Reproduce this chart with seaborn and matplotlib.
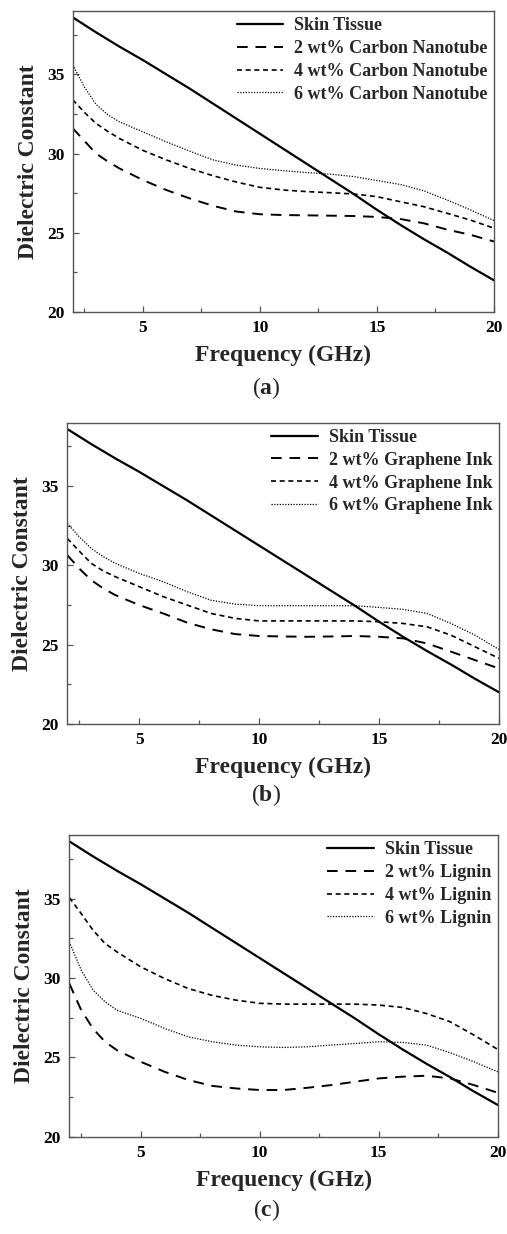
import numpy as np
import pandas as pd
import matplotlib
matplotlib.use("Agg")
import matplotlib.pyplot as plt
import seaborn as sns

# ---------------- data ----------------
freq_skin = [2, 3, 4, 5, 6, 7, 8, 9, 10, 11, 12, 13, 14, 15, 16, 17, 18, 19, 20]
skin = [38.6, 37.65, 36.75, 35.9, 35.0, 34.1, 33.15, 32.2, 31.25, 30.3, 29.35, 28.4,
        27.45, 26.45, 25.5, 24.6, 23.75, 22.85, 22.0]

freq = [2, 2.5, 3, 3.5, 4, 5, 6, 7, 8, 9, 10, 11, 12, 13, 14, 15, 16, 17, 18, 19, 20]

cnt2 = [31.6, 30.8, 30.0, 29.5, 29.06, 28.33, 27.7, 27.17, 26.7, 26.34, 26.17, 26.12,
        26.1, 26.08, 26.06, 26.0, 25.87, 25.6, 25.2, 24.87, 24.45]
cnt4 = [33.4, 32.6, 31.9, 31.4, 30.95, 30.2, 29.6, 29.06, 28.6, 28.2, 27.87, 27.7,
        27.6, 27.53, 27.45, 27.28, 26.96, 26.65, 26.23, 25.8, 25.29]
cnt6 = [35.6, 34.2, 33.1, 32.45, 32.0, 31.37, 30.74, 30.15, 29.6, 29.27, 29.06, 28.92,
        28.8, 28.7, 28.55, 28.3, 28.05, 27.65, 27.07, 26.44, 25.77]

gi2 = [30.65, 29.8, 29.07, 28.55, 28.13, 27.5, 26.97, 26.39, 25.97, 25.67, 25.55, 25.52,
       25.5, 25.52, 25.55, 25.5, 25.4, 25.08, 24.56, 24.03, 23.5]
gi4 = [31.7, 30.9, 30.13, 29.65, 29.29, 28.66, 28.03, 27.5, 26.97, 26.66, 26.5, 26.5,
       26.5, 26.5, 26.5, 26.45, 26.34, 26.13, 25.6, 24.87, 24.14]
gi6 = [32.65, 31.8, 31.07, 30.55, 30.13, 29.5, 28.97, 28.34, 27.8, 27.56, 27.46, 27.46,
       27.46, 27.46, 27.46, 27.35, 27.23, 26.97, 26.34, 25.6, 24.7]

lig2 = [29.65, 27.97, 26.8, 25.98, 25.45, 24.72, 24.09, 23.57, 23.2, 23.04, 22.94, 22.94,
        23.08, 23.25, 23.46, 23.67, 23.78, 23.84, 23.67, 23.25, 22.77]
lig4 = [35.06, 34.05, 33.0, 32.17, 31.64, 30.7, 29.96, 29.33, 28.9, 28.6, 28.4, 28.35,
        28.35, 28.35, 28.35, 28.29, 28.14, 27.76, 27.24, 26.4, 25.5]
lig6 = [32.27, 30.49, 29.23, 28.5, 27.97, 27.45, 26.82, 26.29, 25.98, 25.77, 25.66, 25.62,
        25.66, 25.77, 25.87, 25.98, 25.94, 25.77, 25.29, 24.72, 24.09]

panels = [
    ("a", "Carbon Nanotube", [cnt2, cnt4, cnt6]),
    ("b", "Graphene Ink", [gi2, gi4, gi6]),
    ("c", "Lignin", [lig2, lig4, lig6]),
]
percents = ["2", "4", "6"]

x_ticks = [5, 10, 15, 20]
y_ticks = [20, 25, 30, 35]

# ---------------- style ----------------
sns.set_theme(style="ticks")
plt.rcParams["font.family"] = ["Liberation Serif", "DejaVu Serif"]
plt.rcParams["mathtext.fontset"] = "custom"
plt.rcParams["mathtext.rm"] = "Liberation Serif"
plt.rcParams["mathtext.bf"] = "Liberation Serif:bold"

W, H = 507, 1234
fig = plt.figure(figsize=(W / 100, H / 100), dpi=100)

# axes boxes in pixels: left, top, right, bottom
boxes = [(72.7, 11, 494, 312), (67.3, 422.7, 499, 724), (69.3, 835, 497.7, 1136.7)]
captions_y = [388, 795, 1210]

styles = [
    dict(ls="-", lw=1.6),
    dict(ls=(0, (5.5, 4)), lw=1.4),
    dict(ls=(0, (3, 2.2)), lw=1.2),
    dict(ls=(0, (1, 1.2)), lw=0.9),
]
spine_col = "#555555"

for (letter, material, series), box, cy in zip(panels, boxes, captions_y):
    l, t, r, b = box
    ax = fig.add_axes([l / W, 1 - b / H, (r - l) / W, (b - t) / H])

    df_skin = pd.DataFrame({"f": freq_skin, "v": skin})
    sns.lineplot(data=df_skin, x="f", y="v", ax=ax, color="black",
                 label="Skin Tissue", **styles[0])
    for p, vals, st in zip(percents, series, styles[1:]):
        df = pd.DataFrame({"f": freq, "v": vals})
        sns.lineplot(data=df, x="f", y="v", ax=ax, color="black",
                     label=f"{p} wt% {material}", **st)

    ax.set_xlim(2, 20)
    ax.set_ylim(20, 39)
    ax.set_xticks(x_ticks)
    ax.set_yticks(y_ticks)
    ax.set_xticks([2.5, 7.5, 12.5, 17.5], minor=True)
    ax.set_yticks([22.5, 27.5, 32.5, 37.5], minor=True)
    ax.tick_params(which="both", direction="in", top=False, right=False,
                   colors=spine_col, labelcolor="black")
    ax.tick_params(which="major", length=4, width=0.9, pad=6, labelsize=12.5)
    ax.tick_params(which="minor", length=3, width=0.9)
    for lab in ax.get_xticklabels() + ax.get_yticklabels():
        lab.set_fontweight("bold")
    for sp in ax.spines.values():
        sp.set_color(spine_col)
        sp.set_linewidth(1.0)

    ax.set_xlabel("Frequency (GHz)", fontsize=17, fontweight="bold", labelpad=6)
    ax.set_ylabel("Dielectric Constant", fontsize=17, fontweight="bold", labelpad=6)

    ax.legend(loc="upper right", frameon=False,
              prop={"weight": "bold", "size": 13},
              handlelength=2.6, handletextpad=0.6, labelspacing=0.32,
              borderaxespad=0.15, borderpad=0.2)

    fig.text(0.525, 1 - cy / H, r"($\mathbf{" + letter + r"}$)", ha="center",
             va="center", fontsize=17)

fig.savefig("out.png", dpi=100)
